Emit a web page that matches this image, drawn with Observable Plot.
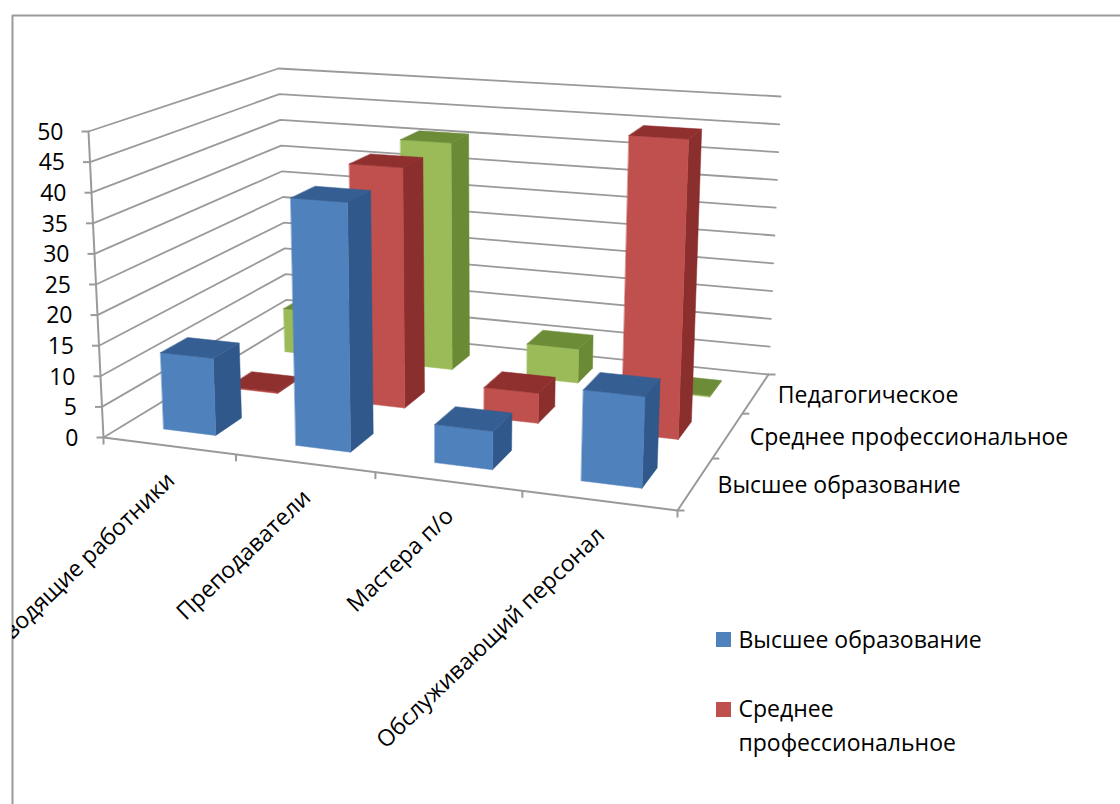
<!DOCTYPE html>
<html lang="ru">
<head>
<meta charset="utf-8">
<title>Состав работников по уровню образования</title>
<script src="https://cdn.jsdelivr.net/npm/d3@7"></script>
<script src="https://cdn.jsdelivr.net/npm/@observablehq/plot@0.6"></script>
<style>
  html, body { margin: 0; padding: 0; background: #fff; }
  svg { display: block; }
</style>
</head>
<body>
<div id="chart"></div>
<script>
// Chart data
const categories = ["Руководящие работники", "Преподаватели", "Мастера п/о", "Обслуживающий персонал"];
const seriesNames = ["Высшее образование", "Среднее профессиональное", "Педагогическое"];
const higher = [12.6, 40, 6, 14];
const secondary = [0.2, 41, 5, 49];
const pedagogical = [8, 41, 6, 0.2];
const seriesValues = [higher, secondary, pedagogical];
const valueTicks = [0, 5, 10, 15, 20, 25, 30, 35, 40, 45, 50];

// Face colours per series: front, side, top
const shades = [
  {front: "#4f81bd", side: "#30588a", top: "#355f92"},
  {front: "#c0504d", side: "#8a2f2d", top: "#8f2f2e"},
  {front: "#9bbb59", side: "#6a8a35", top: "#6d8c38"}
];

// Box corners of the chart volume on the page, used by the perspective projection
const floorCorners = [[103, 437], [677, 510], [768, 374], [287, 325]];
const ceilingCorners = [[88, 131], [690, 173], [780, 96], [278, 68]];
const maxValue = 50;
const barShare = 0.4;

// Homography from the unit square to a quadrilateral
function quadMap([[x0, y0], [x1, y1], [x2, y2], [x3, y3]]) {
  const sx = x0 - x1 + x2 - x3, sy = y0 - y1 + y2 - y3;
  const dx1 = x1 - x2, dx2 = x3 - x2, dy1 = y1 - y2, dy2 = y3 - y2;
  const det = dx1 * dy2 - dx2 * dy1;
  const g = (sx * dy2 - dx2 * sy) / det, h = (dx1 * sy - sx * dy1) / det;
  const a = x1 - x0 + g * x1, b = x3 - x0 + h * x3;
  const d = y1 - y0 + g * y1, e = y3 - y0 + h * y3;
  return (u, v) => {
    const w = g * u + h * v + 1;
    return [(a * u + b * v + x0) / w, (d * u + e * v + y0) / w];
  };
}
const floorMap = quadMap(floorCorners);
const ceilingMap = quadMap(ceilingCorners);

// u runs along the categories, v runs into the depth, value rises from the floor
function project(u, v, value) {
  const [fx, fy] = floorMap(u, v);
  const [cx, cy] = ceilingMap(u, v);
  const t = value / maxValue;
  return [fx + (cx - fx) * t, fy + (cy - fy) * t];
}

// Flat table of polygon vertices, one group per bar face, painted back to front
const faces = [];
function addFace(id, fill, corners) {
  for (const [u, v, value] of corners) {
    const [x, y] = project(u, v, value);
    faces.push({id, fill, x, y});
  }
}
for (let s = seriesNames.length - 1; s >= 0; --s) {
  categories.forEach((_, c) => {
    const value = seriesValues[s][c];
    const u0 = (c + 0.5 - barShare / 2) / categories.length, u1 = (c + 0.5 + barShare / 2) / categories.length;
    const v0 = (s + 0.5 - barShare / 2) / seriesNames.length, v1 = (s + 0.5 + barShare / 2) / seriesNames.length;
    const shade = shades[s];
    addFace(`${s}-${c}-side`, shade.side, [[u1, v0, 0], [u1, v1, 0], [u1, v1, value], [u1, v0, value]]);
    addFace(`${s}-${c}-front`, shade.front, [[u0, v0, 0], [u1, v0, 0], [u1, v0, value], [u0, v0, value]]);
    addFace(`${s}-${c}-top`, shade.top, [[u0, v0, value], [u1, v0, value], [u1, v1, value], [u0, v1, value]]);
  });
}

// Wall gridlines, floor edges and axis lines as polylines
const gridPath = [];
valueTicks.forEach(t => {
  [[0, 0], [0, 1], [1, 1]].forEach(([u, v]) => {
    const [x, y] = project(u, v, t);
    gridPath.push({t, x, y});
  });
});
const axisPath = [];
function addAxis(id, points) {
  for (const [u, v, value] of points) {
    const [x, y] = project(u, v, value);
    axisPath.push({id, x, y});
  }
}
addAxis("value", [[0, 0, 0], [0, 0, maxValue]]);
addAxis("categories", [[0, 0, 0], [1, 0, 0]]);
addAxis("depth", [[1, 0, 0], [1, 1, 0]]);

const tickLength = 7;
const valueTickRows = valueTicks.map(t => {
  const [x, y] = project(0, 0, t);
  return {t, x, y};
});
const categoryTickRows = d3.range(categories.length + 1).map(i => {
  const [x, y] = project(i / categories.length, 0, 0);
  return {x, y};
});
const depthTickRows = d3.range(seriesNames.length + 1).map(i => {
  const [x, y] = project(1, i / seriesNames.length, 0);
  return {x, y};
});
const categoryLabels = categories.map((name, i) => {
  const [x, y] = project((i + 0.5) / categories.length, 0, 0);
  return {name, x, y};
});
const depthLabels = seriesNames.map((name, i) => {
  const [x, y] = project(1, (i + 0.5) / seriesNames.length, 0);
  return {name, x, y};
});

// Legend rows: the third series does not fit in the reserved space
const legendX = 716, legendSwatch = 15;
const legendSwatches = [
  {y: 632, fill: shades[0].front},
  {y: 702, fill: shades[1].front}
];
const legendLines = [
  {text: seriesNames[0], y: 640},
  {text: "Среднее", y: 709},
  {text: "профессиональное", y: 743}
];

const font = "'Open Sans', 'Noto Sans', sans-serif";
const axisColor = "#9a9a9a";
const fontSize = 23;

const chart = Plot.plot({
  width: 1120,
  height: 804,
  marginLeft: 12,
  marginTop: 15,
  marginRight: 0,
  marginBottom: 0,
  style: {background: "#fff", fontFamily: font},
  x: {domain: [12, 1120], range: [12, 1120], axis: null},
  y: {domain: [15, 804], range: [15, 804], axis: null},
  marks: [
    // Chart area border
    Plot.ruleX([12], {stroke: axisColor, strokeWidth: 2}),
    Plot.ruleY([15], {stroke: axisColor, strokeWidth: 2}),
    // Walls
    Plot.line(gridPath, {x: "x", y: "y", z: "t", stroke: axisColor, strokeWidth: 1.8}),
    // Axes and ticks
    Plot.line(axisPath, {x: "x", y: "y", z: "id", stroke: axisColor, strokeWidth: 2}),
    Plot.link(valueTickRows, {x1: d => d.x - tickLength, x2: "x", y1: "y", y2: "y", stroke: axisColor, strokeWidth: 2}),
    Plot.link(categoryTickRows, {x1: "x", x2: "x", y1: "y", y2: d => d.y + tickLength, stroke: axisColor, strokeWidth: 2}),
    Plot.link(depthTickRows, {x1: "x", x2: d => d.x + tickLength, y1: "y", y2: "y", stroke: axisColor, strokeWidth: 2}),
    // Bars
    Plot.line(faces, {x: "x", y: "y", z: "id", fill: "fill", stroke: "fill", strokeWidth: 0.5, curve: "linear-closed"}),
    // Labels
    Plot.text(valueTickRows, {x: d => d.x - 25, y: d => d.y + 1, text: d => String(d.t), textAnchor: "end", fontSize, fill: "#000"}),
    Plot.text(categoryLabels, {
      x: d => d.x + 2, y: d => d.y + 31, text: "name", rotate: -44, textAnchor: "end",
      fontSize, fill: "#000", clip: "frame"
    }),
    Plot.text(depthLabels, {x: d => d.x + 22, y: d => d.y + 2, text: "name", textAnchor: "start", fontSize, fill: "#000"}),
    // Legend
    Plot.rect(legendSwatches, {x1: legendX, x2: legendX + legendSwatch, y1: "y", y2: d => d.y + legendSwatch, fill: "fill"}),
    Plot.text(legendLines, {x: legendX + 22, y: "y", text: "text", textAnchor: "start", fontSize, fill: "#000"})
  ]
});
document.getElementById("chart").append(chart);
</script>
</body>
</html>
